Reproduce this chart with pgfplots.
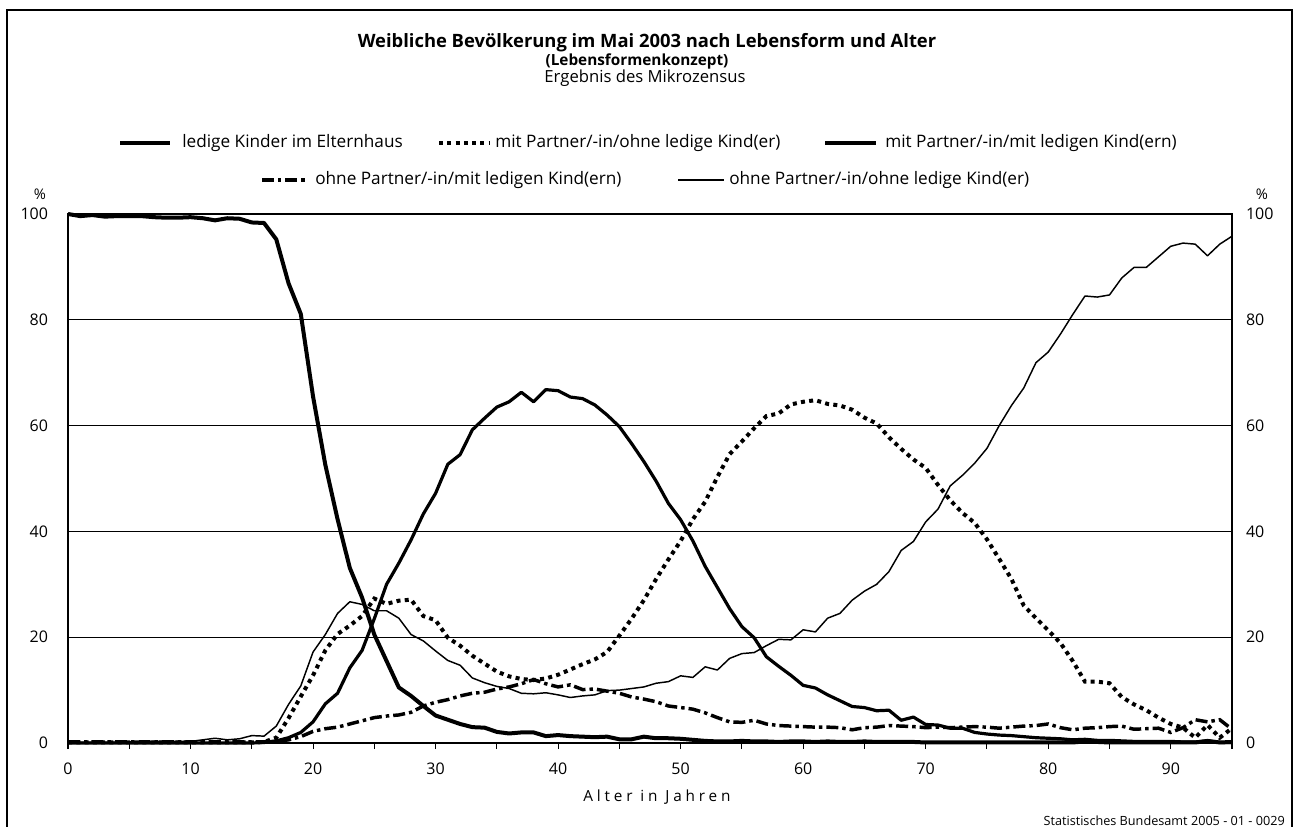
\documentclass[border=0pt]{standalone}
\usepackage{fontspec}
\setmainfont{Open Sans}
\usepackage{pgfplots}
\usepackage{pgfplotstable}
\pgfplotsset{compat=1.18}

% age, ledige Kinder, mit P./ohne K., mit P./mit K., ohne P./mit K., ohne P./ohne K.
\pgfplotstableread{
age s1 s2 s3 s4 s5
0 100 0.1 0 0.2 0.1
1 99.6 0.1 0 0.2 0.1
2 99.8 0.1 0 0.2 0.1
3 99.5 0.1 0 0.2 0.1
4 99.6 0.1 0 0.2 0.1
5 99.6 0.1 0 0.2 0.2
6 99.6 0.1 0 0.2 0.2
7 99.4 0.1 0 0.2 0.3
8 99.3 0.1 0 0.2 0.3
9 99.3 0.1 0 0.2 0.3
10 99.4 0.1 0 0.2 0.3
11 99.2 0.1 0 0.2 0.6
12 98.8 0.1 0 0.2 0.9
13 99.2 0.1 0 0.2 0.6
14 99.1 0.1 0 0.2 0.8
15 98.4 0.1 0 0.2 1.4
16 98.3 0.2 0.1 0.2 1.3
17 95.2 1.0 0.4 0.3 3.2
18 86.9 4.7 1.0 0.6 7.3
19 81.1 8.8 2.0 1.2 10.8
20 65.5 12.8 4.0 2.2 17.2
21 52.6 17.5 7.4 2.7 20.5
22 42.3 20.6 9.4 3.0 24.5
23 33.1 22.2 14.2 3.6 26.7
24 27.5 24.0 17.5 4.2 26.2
25 20.5 27.3 23.5 4.8 25.0
26 15.5 26.3 30.0 5.1 25.0
27 10.5 26.9 34.0 5.3 23.6
28 8.9 27.1 38.4 5.8 20.5
29 7.0 24.0 43.3 7.0 19.3
30 5.2 23.2 47.2 7.7 17.4
31 4.4 19.9 52.7 8.2 15.6
32 3.6 18.4 54.5 8.9 14.7
33 3.0 16.5 59.2 9.4 12.3
34 2.9 15.0 61.4 9.6 11.4
35 2.1 13.5 63.5 10.2 10.7
36 1.8 12.6 64.5 10.6 10.3
37 2.0 12.1 66.3 11.2 9.4
38 2.0 11.9 64.5 12.0 9.3
39 1.3 12.2 66.8 11.2 9.5
40 1.5 12.9 66.6 10.6 9.1
41 1.3 13.9 65.4 11.0 8.6
42 1.2 14.9 65.1 10.1 8.9
43 1.1 15.8 63.9 10.2 9.1
44 1.2 17.2 62.0 9.8 9.9
45 0.7 20.3 59.8 9.4 10.0
46 0.7 23.5 56.6 8.7 10.3
47 1.2 27.0 53.2 8.3 10.6
48 0.9 31.0 49.5 7.8 11.3
49 0.9 34.7 45.3 7.0 11.6
50 0.8 38.2 42.2 6.7 12.7
51 0.6 42.3 38.2 6.4 12.4
52 0.4 45.6 33.4 5.7 14.4
53 0.3 50.3 29.4 4.8 13.8
54 0.3 54.6 25.4 4.0 16.0
55 0.4 57.0 22.0 3.9 16.9
56 0.3 59.5 19.9 4.3 17.1
57 0.3 61.8 16.3 3.6 18.4
58 0.2 62.3 14.5 3.3 19.6
59 0.3 64.0 12.8 3.2 19.5
60 0.3 64.5 10.9 3.1 21.4
61 0.2 64.8 10.4 3.0 21.0
62 0.3 64.1 9.1 3.0 23.6
63 0.2 63.8 8.0 2.9 24.5
64 0.2 63.0 6.9 2.5 27.0
65 0.3 61.5 6.7 2.9 28.7
66 0.2 60.4 6.1 3.0 30.0
67 0.2 57.8 6.2 3.3 32.4
68 0.2 55.6 4.3 3.2 36.4
69 0.2 53.6 4.9 3.1 38.1
70 0.1 52.0 3.5 2.9 41.8
71 0.1 48.8 3.4 3.0 44.2
72 0.1 45.9 2.8 2.9 48.6
73 0.1 43.5 2.8 3.0 50.6
74 0.1 41.6 2.0 3.1 52.9
75 0.1 38.5 1.7 3.0 55.7
76 0.1 34.8 1.5 2.8 60.0
77 0.1 31.0 1.4 3.0 63.8
78 0.1 26.0 1.2 3.2 67.1
79 0.1 23.6 1.0 3.3 71.9
80 0.1 21.3 0.9 3.6 73.9
81 0.1 18.9 0.8 2.9 77.3
82 0.1 15.5 0.6 2.5 81.0
83 0.3 11.6 0.7 2.8 84.5
84 0.2 11.6 0.5 2.9 84.3
85 0.1 11.3 0.5 3.1 84.7
86 0.1 8.7 0.4 3.2 87.9
87 0.1 7.3 0.3 2.6 89.9
88 0.1 6.2 0.3 2.7 89.9
89 0.1 4.8 0.3 2.8 91.9
90 0.1 3.6 0.3 2.0 93.9
91 0.1 2.9 0.2 2.9 94.5
92 0.1 1.0 0.2 4.4 94.3
93 0.4 3.4 0.4 4.0 92.1
94 0.1 1.0 0.1 4.4 94.3
95 0.2 2.8 0.1 2.6 95.8
}\lebensform

\tikzset{
  s1/.style={black, line width=3pt, line join=round},
  s2/.style={black, line width=3pt, dash pattern=on 3pt off 3.2pt},
  s3/.style={black, line width=2.4pt, line join=round},
  s4/.style={black, line width=2.6pt, dash pattern=on 9pt off 3pt on 2.6pt off 3pt},
  s5/.style={black, line width=1.1pt, line join=round},
}

\begin{document}
\begin{tikzpicture}
  \begin{scope}[x=0.75pt, y=-0.75pt]
    \path[use as bounding box] (0,0) rectangle (1294,827);
    \draw[line width=1.5pt] (7,10) rectangle (1292,845);
    \node[font=\bfseries\fontsize{13.8}{16}\selectfont] at (647,43) {Weibliche Bevölkerung im Mai 2003 nach Lebensform und Alter};
    \node[font=\bfseries\fontsize{11.5}{13}\selectfont] at (637,61) {(Lebensformenkonzept)};
    \node[font=\fontsize{12.5}{14}\selectfont] at (645,78) {Ergebnis des Mikrozensus};
    % legend
    \begin{scope}[every node/.style={anchor=west, inner sep=0pt, font=\fontsize{12.9}{15}\selectfont}]
      \draw[s1] (120,143) -- (170,143); \node at (182,143) {ledige Kinder im Elternhaus};
      \draw[s2] (439,143) -- (490,143); \node at (495,143) {mit Partner/-in/ohne ledige Kind(er)};
      \draw[s3] (825,143) -- (876,143); \node at (885,143) {mit Partner/-in/mit ledigen Kind(ern)};
      \draw[s4] (262,180) -- (307,180); \node at (315,180) {ohne Partner/-in/mit ledigen Kind(ern)};
      \draw[s5] (678,180) -- (724,180); \node at (729,180) {ohne Partner/-in/ohne ledige Kind(er)};
    \end{scope}
    \node[font=\fontsize{11}{13}\selectfont] at (40,194) {\%};
    \node[font=\fontsize{11}{13}\selectfont] at (1262,194) {\%};
    \node[font=\fontsize{11.5}{13}\selectfont] at (657,797) {\addfontfeatures{LetterSpace=25}Alter in Jahren};
    \node[anchor=base east, inner sep=0pt, font=\fontsize{9.5}{11}\selectfont] at (1285,825) {Statistisches Bundesamt 2005 - 01 - 0029};
  \end{scope}

  \begin{axis}[
      at={(51pt,-557.25pt)}, anchor=south west,
      scale only axis, width=873pt, height=396.75pt,
      xmin=0, xmax=95, ymin=0, ymax=100,
      xtick={0,5,...,95},
      xticklabels={0,,10,,20,,30,,40,,50,,60,,70,,80,,90,},
      ytick={0,20,...,100},
      ymajorgrids, grid style={black, line width=0.7pt},
      axis line style={line width=1.5pt},
      tick align=outside, xtick pos=lower,
      ytick style={draw=none},
      xtick style={black, line width=0.8pt},
      major tick length=4.5pt,
      ticklabel style={font=\fontsize{12}{14}\selectfont},
      yticklabel style={xshift=-7pt},
      xticklabel style={yshift=-7pt},
      /pgf/number format/assume math mode=true,
      clip=false,
    ]
    \addplot[s5] table[x=age, y=s5] {\lebensform};
    \addplot[s4] table[x=age, y=s4] {\lebensform};
    \addplot[s3] table[x=age, y=s3] {\lebensform};
    \addplot[s2] table[x=age, y=s2] {\lebensform};
    \addplot[s1] table[x=age, y=s1] {\lebensform};
  \end{axis}

  \begin{axis}[
      at={(51pt,-557.25pt)}, anchor=south west,
      scale only axis, width=873pt, height=396.75pt,
      xmin=0, xmax=95, ymin=0, ymax=100,
      hide x axis, axis y line*=right,
      y axis line style={draw=none},
      ytick={0,20,...,100}, ytick style={draw=none},
      ticklabel style={font=\fontsize{12}{14}\selectfont},
      yticklabel style={xshift=7pt},
      /pgf/number format/assume math mode=true,
    ]
  \end{axis}
\end{tikzpicture}
\end{document}
